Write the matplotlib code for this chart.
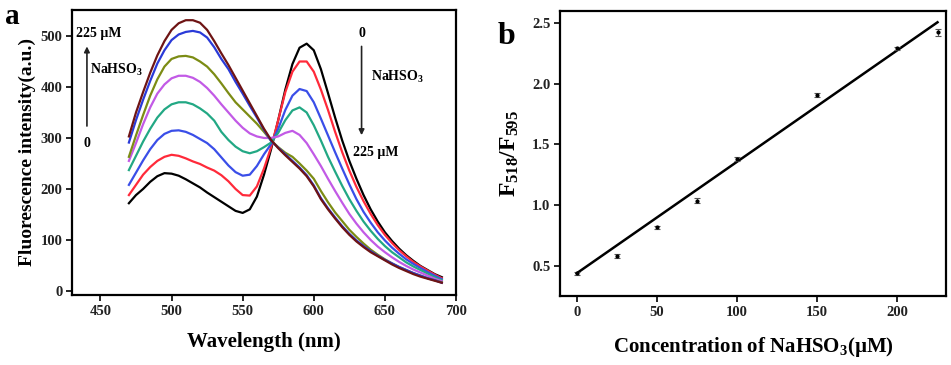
import numpy as np
import matplotlib
matplotlib.use("Agg")
import matplotlib.pyplot as plt

plt.rcParams['font.family'] = ['Liberation Serif', 'DejaVu Serif']
plt.rcParams['font.weight'] = 'bold'
plt.rcParams['mathtext.fontset'] = 'custom'
plt.rcParams['mathtext.rm'] = 'Liberation Serif:bold'
plt.rcParams['mathtext.it'] = 'Liberation Serif:bold'
plt.rcParams['mathtext.bf'] = 'Liberation Serif:bold'

# ---------------- Panel a data ----------------
wavelength = list(range(470, 691, 5))

conc_labels = ["0", "25", "50", "75", "100", "150", "200", "225"]
colors = ["#000000", "#ff2a3a", "#3a4ee8", "#22a884", "#c25ae6", "#7c8c14", "#2a3ad8", "#6e1414"]

I_0 = [172, 188, 200, 214, 225, 231, 230, 226, 219, 211, 203, 193, 184, 175, 166, 157, 153, 160,
       185, 228, 278, 335, 395, 445, 477, 485, 472, 435, 388, 340, 295, 255, 220, 188, 160, 136,
       115, 98, 83, 70, 59, 49, 41, 33, 27]
I_25 = [188, 208, 228, 243, 255, 263, 267, 265, 260, 254, 249, 242, 236, 227, 215, 200, 188, 187,
        205, 240, 282, 335, 390, 430, 450, 450, 430, 395, 355, 312, 272, 236, 204, 176, 151, 129,
        110, 94, 80, 68, 57, 48, 40, 32, 25]
I_50 = [208, 232, 256, 278, 296, 308, 314, 315, 312, 306, 298, 290, 278, 262, 246, 233, 226, 228,
        245, 268, 288, 318, 355, 383, 396, 392, 370, 338, 305, 272, 240, 209, 180, 155, 134, 115,
        99, 85, 73, 62, 53, 45, 37, 30, 23]
I_75 = [237, 265, 293, 318, 340, 356, 366, 370, 370, 366, 358, 348, 334, 312, 296, 283, 274, 270,
        274, 282, 291, 310, 335, 354, 360, 350, 325, 295, 263, 234, 206, 180, 157, 136, 118, 102,
        88, 76, 66, 56, 48, 41, 34, 27, 21]
I_100 = [255, 290, 327, 360, 387, 405, 417, 422, 422, 418, 410, 398, 383, 366, 350, 334, 320, 309,
         303, 300, 300, 303, 310, 314, 306, 290, 268, 245, 220, 196, 173, 151, 132, 115, 100, 87,
         76, 66, 57, 49, 42, 36, 30, 24, 19]
I_150 = [263, 305, 345, 383, 415, 440, 455, 460, 461, 458, 450, 440, 425, 407, 388, 370, 356, 342,
         328, 312, 295, 282, 271, 263, 250, 236, 220, 196, 174, 154, 137, 120, 106, 93, 81, 71,
         62, 54, 47, 41, 35, 30, 25, 21, 17]
I_200 = [291, 335, 375, 412, 446, 472, 492, 503, 508, 510, 507, 497, 478, 455, 435, 410, 387, 363,
         340, 316, 294, 281, 268, 255, 242, 227, 207, 182, 162, 144, 127, 112, 99, 88, 78, 69,
         61, 54, 47, 41, 35, 30, 25, 21, 16]
I_225 = [303, 350, 390, 428, 462, 490, 512, 525, 531, 531, 526, 512, 490, 466, 443, 418, 393, 368,
         343, 318, 296, 280, 266, 253, 240, 225, 205, 180, 160, 142, 125, 110, 97, 86, 76, 68,
         60, 52, 45, 39, 33, 28, 24, 20, 16]
spectra = [I_0, I_25, I_50, I_75, I_100, I_150, I_200, I_225]

# ---------------- Panel b data ----------------
conc = [0, 25, 50, 75, 100, 150, 200, 225]
ratio = [0.437, 0.58, 0.815, 1.035, 1.378, 1.91, 2.294, 2.423]
ratio_err = [0.012, 0.015, 0.015, 0.02, 0.015, 0.015, 0.012, 0.03]
fit_slope = 0.0092
fit_intercept = 0.437

W, H = 951, 365
fig = plt.figure(figsize=(W / 100, H / 100), dpi=100)

def frac(l, t, r, b):
    return [l / W, 1 - b / H, (r - l) / W, (b - t) / H]

axa = fig.add_axes(frac(72, 10, 456, 295))
axb = fig.add_axes(frac(560, 11, 946, 296))

# ---- panel a ----
for I, c in zip(spectra, colors):
    axa.plot(wavelength, I, color=c, lw=1.6)
axa.set_xlim(430, 700)
axa.set_ylim(-8, 551)
axa.set_xticks([450, 500, 550, 600, 650, 700])
axa.set_yticks([0, 100, 200, 300, 400, 500])
axa.set_xlabel("Wavelength (nm)", fontsize=15, fontweight='bold', labelpad=10)
axa.set_ylabel("Fluorescence intensity(a.u.)", fontsize=14, fontweight='bold', labelpad=3)

axa.annotate("", xy=(440.5, 485), xytext=(440.5, 318),
             arrowprops=dict(arrowstyle="-|>", color="#222222", lw=1.2, mutation_scale=8))
axa.text(432.5, 505, "225 µM", fontsize=10, fontweight='bold', va='center', ha='left')
axa.text(440.5, 290, "0", fontsize=10, fontweight='bold', va='center', ha='center')
axa.text(442.5, 433, "NaHSO$_3$", fontsize=10, fontweight='bold', va='center', ha='left')

axa.annotate("", xy=(633.6, 300), xytext=(633.6, 485),
             arrowprops=dict(arrowstyle="-|>", color="#222222", lw=1.2, mutation_scale=8))
axa.text(633.6, 505, "0", fontsize=10, fontweight='bold', va='center', ha='center')
axa.text(640.5, 420, "NaHSO$_3$", fontsize=10, fontweight='bold', va='center', ha='left')
axa.text(627.5, 272, "225 µM", fontsize=10, fontweight='bold', va='center', ha='left')

# ---- panel b ----
xfit = np.array([conc[0], conc[-1]])
axb.plot(xfit, fit_intercept + fit_slope * xfit, color='black', lw=1.8)
axb.errorbar(conc, ratio, yerr=ratio_err, fmt='o', ms=2, color='black',
             ecolor='#555555', elinewidth=0.8, capsize=2, capthick=0.8)
axb.set_xlim(-10.4, 230.3)
axb.set_ylim(0.25, 2.6)
axb.set_xticks([0, 50, 100, 150, 200])
axb.set_yticks([0.5, 1.0, 1.5, 2.0, 2.5])
axb.set_yticklabels(["0.5", "1.0", "1.5", "2.0", "2.5"])
axb.set_xlabel("Concentration of NaHSO$_3$(µM)", fontsize=15, fontweight='bold', labelpad=12)
axb.set_ylabel("F$_{518}$/F$_{595}$", fontsize=17, fontweight='bold', labelpad=8)

for ax in (axa, axb):
    for s in ax.spines.values():
        s.set_linewidth(1.6)
    ax.tick_params(axis='both', which='both', direction='out', length=4, width=1.2,
                   labelsize=10.5, top=False, right=False, pad=3)
    for lab in ax.get_xticklabels() + ax.get_yticklabels():
        lab.set_fontweight('bold')
        lab.set_color('#222222')

fig.text(12 / W, 1 - 17 / H, "a", fontsize=21, fontweight='bold', va='center', ha='center')
fig.text(506 / W, 1 - 36 / H, "b", fontsize=23, fontweight='bold', va='center', ha='center')

fig.savefig("out.png", dpi=100)
